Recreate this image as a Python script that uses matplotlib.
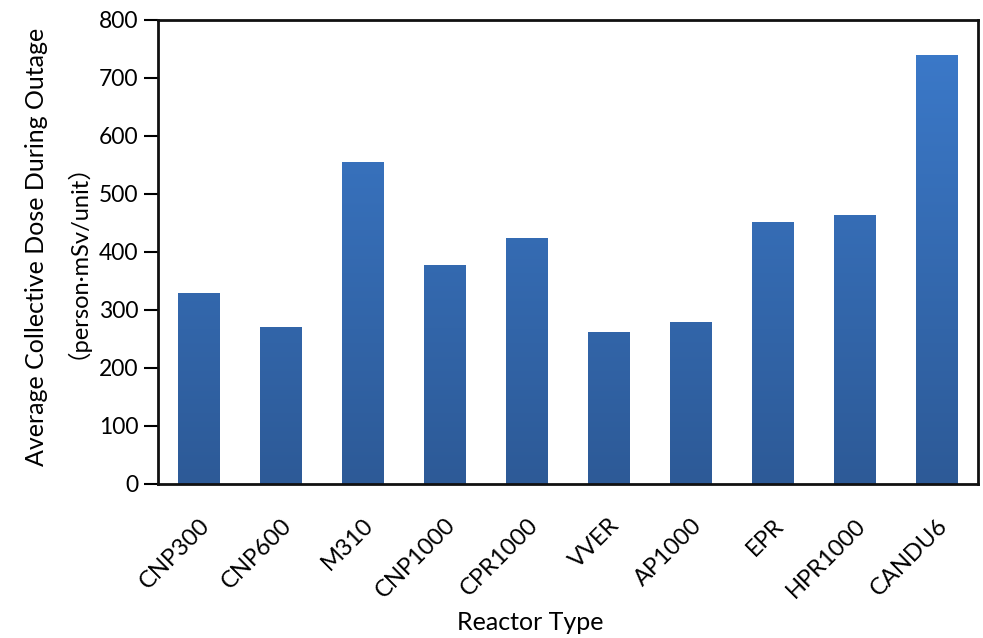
import matplotlib.pyplot as plt
import numpy as np
from matplotlib.colors import LinearSegmentedColormap
from matplotlib.patches import Rectangle

plt.rcParams['font.family'] = ['Lato', 'Noto Sans CJK SC', 'DejaVu Sans']

reactors = ["CNP300", "CNP600", "M310", "CNP1000", "CPR1000",
            "VVER", "AP1000", "EPR", "HPR1000", "CANDU6"]
dose = [329, 270, 556, 378, 425, 262, 280, 451, 464, 740]

W, H = 983, 638
fig = plt.figure(figsize=(W / 100, H / 100), dpi=100)
ax = fig.add_axes([158 / W, 1 - 484 / H, 820 / W, 464 / H])

x = np.arange(len(reactors))
width = 0.51
bars = ax.bar(x, dose, width=width, color="none", edgecolor="none")

# vertical gradient, lighter on top
cmap = LinearSegmentedColormap.from_list("grad", ["#2d5a97", "#3c7bcc"])
grad = np.linspace(0, 1, 256).reshape(-1, 1)
for b in bars:
    x0, w, h = b.get_x(), b.get_width(), b.get_height()
    im = ax.imshow(grad, cmap=cmap, origin="lower", aspect="auto",
                   extent=[x0, x0 + w, 0, 800], zorder=2)
    clip = Rectangle((x0, 0), w, h, transform=ax.transData)
    im.set_clip_path(clip)

ax.set_xlim(-0.5, len(reactors) - 0.5)
ax.set_ylim(0, 800)
ax.set_yticks(range(0, 801, 100))
ax.tick_params(axis="y", labelsize=16.5, length=10, width=1.5, pad=4)
ax.tick_params(axis="x", length=0, labelsize=17, pad=22)
ax.set_xticks(x)
ax.set_xticklabels(reactors, rotation=45, ha="right", rotation_mode="anchor")

for sp in ax.spines.values():
    sp.set_linewidth(2)
    sp.set_color("#111111")

fig.text(530 / W, 1 - 622 / H, "Reactor Type", fontsize=18,
         ha="center", va="center")
fig.text(37 / W, 1 - 247 / H, "Average Collective Dose During Outage",
         fontsize=18, rotation=90, ha="center", va="center")
fig.text(64 / W, 1 - 249 / H, "（person·mSv/unit）", fontsize=17,
         rotation=90, ha="center", va="center")

plt.savefig("out.png", dpi=100)
